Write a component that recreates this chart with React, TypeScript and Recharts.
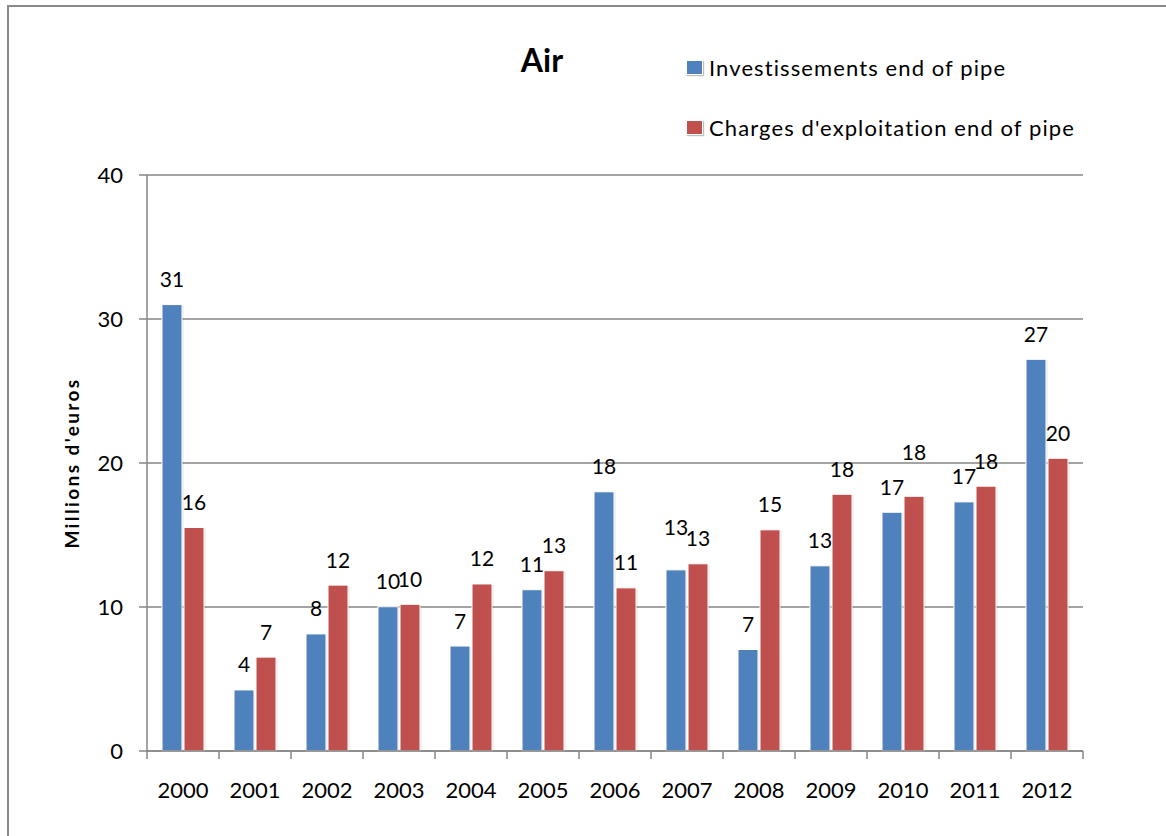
import React from "react";
import { BarChart, Bar, XAxis, YAxis, CartesianGrid, LabelList } from "recharts";

const years = ["2000", "2001", "2002", "2003", "2004", "2005", "2006", "2007", "2008", "2009", "2010", "2011", "2012"];
const investissements = [31.0, 4.24, 8.13, 10.02, 7.29, 11.2, 18.0, 12.58, 7.05, 12.86, 16.58, 17.3, 27.2];
const charges = [15.52, 6.52, 11.52, 10.19, 11.6, 12.52, 11.33, 13.0, 15.36, 17.83, 17.69, 18.39, 20.33];
const yTicks = [0, 10, 20, 30, 40];
const seriesNames = ["Investissements end of pipe", "Charges d'exploitation end of pipe"];
const colors = ["#4F81BD", "#C0504D"];

const data = years.map((y, i) => ({ year: y, inv: investissements[i], chg: charges[i] }));

const FONT = "Lato, 'Open Sans', sans-serif";
const GRID = "#868686";
const BAND = 72;

// extra lift for labels that are displaced in the original
const invLift: Record<number, number> = { 7: 17 };
const chgLift: Record<number, number> = { 10: 19 };

const makeLabel = (lift: Record<number, number>) => (props: any) => {
  const { x, y, width, value, index } = props;
  return (
    <text
      x={Number(x) + Number(width) / 2}
      y={Number(y) - 26 - (lift[index] || 0)}
      textAnchor="middle"
      dominantBaseline="central"
      fontFamily={FONT}
      fontSize={21}
      fill="#000"
    >
      {Math.round(Number(value))}
    </text>
  );
};

const BarShape = (props: any) => {
  const { x, y, width, height, fill } = props;
  if (!height || height <= 0) return null;
  return (
    <g>
      <rect x={x + 1.5} y={y + 1} width={width} height={height - 1} fill="#000" opacity={0.1} />
      <rect x={x} y={y} width={width} height={height} fill={fill} stroke="#ffffff" strokeWidth={1} />
    </g>
  );
};

const XTick = (props: any) => {
  const { x, y, payload, index } = props;
  const last = index === years.length - 1;
  return (
    <g>
      <line x1={x - BAND / 2} y1={y} x2={x - BAND / 2} y2={y + 8} stroke={GRID} strokeWidth={1.5} />
      {last && <line x1={x + BAND / 2} y1={y} x2={x + BAND / 2} y2={y + 8} stroke={GRID} strokeWidth={1.5} />}
      <text x={x} y={y + 38} textAnchor="middle" dominantBaseline="central" fontFamily={FONT} fontSize={22} fill="#000">
        {payload.value}
      </text>
    </g>
  );
};

export default function App() {
  return (
    <div style={{ position: "absolute", left: 0, top: 0, width: 1166, height: 836, overflow: "hidden", background: "#fff" }}>
      <div
        style={{
          position: "absolute",
          left: 7,
          top: 5,
          width: 1200,
          height: 900,
          border: "2px solid #8a8a8a",
          boxSizing: "border-box",
        }}
      />
      <div style={{ position: "absolute", left: 0, top: 0 }}>
        <BarChart
          width={1166}
          height={836}
          data={data}
          margin={{ top: 175, right: 83, bottom: 55, left: 0 }}
          barSize={20}
          barGap={2}
        >
          <CartesianGrid vertical={false} stroke={GRID} strokeWidth={1.5} />
          <XAxis
            dataKey="year"
            axisLine={{ stroke: GRID, strokeWidth: 1.5 }}
            tickLine={false}
            tickSize={0}
            tickMargin={0}
            tick={<XTick />}
            interval={0}
            height={30}
          />
          <YAxis
            width={147}
            domain={[0, 40]}
            ticks={yTicks}
            interval={0}
            axisLine={{ stroke: GRID, strokeWidth: 1.5 }}
            tickLine={{ stroke: GRID, strokeWidth: 1.5 }}
            tickSize={8}
            tickMargin={16}
            tick={{ fontFamily: FONT, fontSize: 22, fill: "#000" }}
            label={{
              value: "Millions d'euros",
              angle: -90,
              position: "center",
              dx: -1,
              style: { fontFamily: FONT, fontSize: 19, fontWeight: 700, fill: "#000", letterSpacing: 2.4 },
            }}
          />
          <Bar dataKey="inv" name={seriesNames[0]} fill={colors[0]} isAnimationActive={false} shape={<BarShape />}>
            <LabelList dataKey="inv" content={makeLabel(invLift)} />
          </Bar>
          <Bar dataKey="chg" name={seriesNames[1]} fill={colors[1]} isAnimationActive={false} shape={<BarShape />}>
            <LabelList dataKey="chg" content={makeLabel(chgLift)} />
          </Bar>
        </BarChart>
      </div>
      <div
        style={{
          position: "absolute",
          left: 442,
          top: 40,
          width: 200,
          textAlign: "center",
          fontFamily: FONT,
          fontSize: 32,
          fontWeight: 700,
          lineHeight: "40px",
          color: "#000",
        }}
      >
        Air
      </div>
      {seriesNames.map((name, i) => (
        <div
          key={name}
          style={{
            position: "absolute",
            left: 686,
            top: 52 + i * 60,
            height: 30,
            display: "flex",
            alignItems: "center",
            fontFamily: FONT,
            fontSize: 22,
            letterSpacing: 1.1,
            color: "#000",
            whiteSpace: "nowrap",
          }}
        >
          <span
            style={{
              display: "inline-block",
              width: 15,
              height: 13,
              background: colors[i],
              border: "1px solid #fff",
              boxShadow: "1px 1px 1px rgba(0,0,0,0.25)",
              marginRight: 6,
            }}
          />
          {name}
        </div>
      ))}
    </div>
  );
}
